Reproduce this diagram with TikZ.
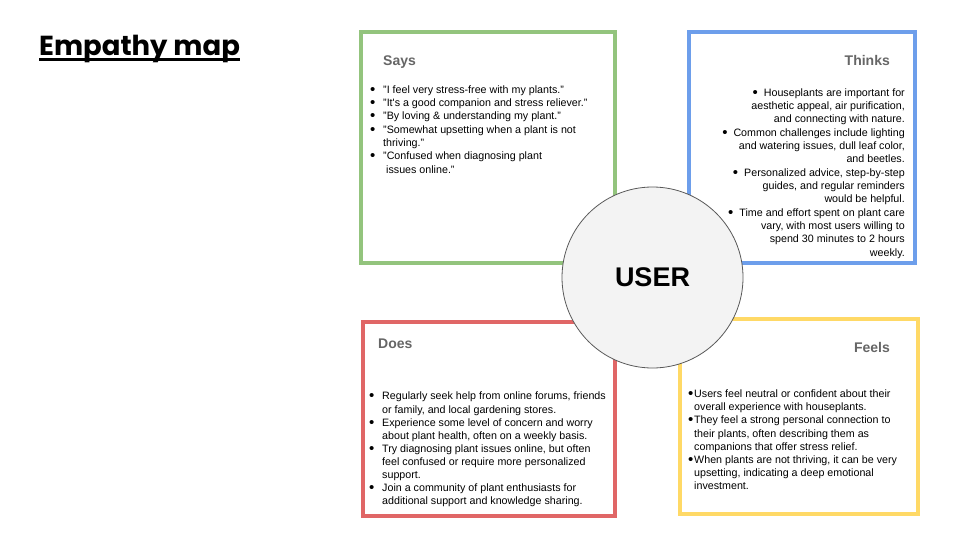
\documentclass[tikz,border=0pt]{standalone}
\usepackage{fontspec}
\setmainfont{Liberation Sans}
\newfontfamily\titlefont{Poppins}
\definecolor{gsay}{HTML}{93C47D}
\definecolor{gthink}{HTML}{6D9EEB}
\definecolor{gdo}{HTML}{E06666}
\definecolor{gfeel}{HTML}{FFD966}
\definecolor{hdr}{HTML}{666666}
\definecolor{circfill}{HTML}{F3F3F3}
\definecolor{circline}{HTML}{595959}
\newcommand\bdot{\raisebox{-0.9pt}{\scalebox{1.4}{\textbullet}}}
\newcommand\bulA[1]{\makebox[13pt][l]{\bdot}#1}
\newcommand\indA{\hspace*{13pt}}
\newcommand\bulF[1]{\makebox[6pt][l]{\bdot}#1}
\newcommand\indF{\hspace*{6pt}}
\newcommand\bulT{\bdot\hspace{6pt}}
\begin{document}
\begin{tikzpicture}[x=1pt,y=-1pt,
  quad/.style={draw, rectangle, line width=3.5pt, fill=white, inner sep=0pt},
  hdrtext/.style={font=\fontsize{14}{16}\selectfont\bfseries, text=hdr, inner sep=0pt},
  body/.style={font=\fontsize{10.7}{13.33}\selectfont, inner sep=0pt, text=black},
  bodyB/.style={font=\fontsize{10.7}{13.1}\selectfont, inner sep=0pt, text=black}]
\useasboundingbox (0,0) rectangle (960,540);
\fill[white] (0,0) rectangle (960,540);
% title
\node[anchor=base west, inner sep=0pt, font=\titlefont\bfseries\fontsize{27.5}{30}\selectfont] (title) at (39,56) {Empathy map};
\draw[line width=2.2pt] ([yshift=-3.5pt]title.base west) -- ([yshift=-3.5pt]title.base east);
% boxes
\node[quad, draw=gsay, minimum width=254pt, minimum height=231pt] (says) at (488,147.5) {};
\node[quad, draw=gthink, minimum width=226pt, minimum height=231pt] (thinks) at (802,147.5) {};
\node[quad, draw=gdo, minimum width=252pt, minimum height=194pt] (does) at (489,419) {};
\node[quad, draw=gfeel, minimum width=238pt, minimum height=195pt] (feels) at (799,416.5) {};
% headers
\node[hdrtext, anchor=base west] (saysh) at (383,66) {Says};
\node[hdrtext, anchor=base east] (thinksh) at (890,66) {Thinks};
\node[hdrtext, anchor=base west] (doesh) at (378,348) {Does};
\node[hdrtext, anchor=base east] (feelsh) at (890,352) {Feels};
% says text
\node[body, anchor=north west, align=left] (saystext) at (370,83.6) {%
\bulA{"I feel very stress-free with my plants."}\strut\\
\bulA{"It\textquotesingle s a good companion and stress reliever."}\\
\bulA{"By loving \& understanding my plant."}\\
\bulA{"Somewhat upsetting when a plant is not}\\
\indA thriving."\\
\bulA{"Confused when diagnosing plant}\\
\indA\ issues online."};
% thinks text
\node[body, anchor=north east, align=right] (thinkstext) at (905,86.6) {%
\bulT Houseplants are important for\strut\\
aesthetic appeal, air purification,\\
and connecting with nature.\\
\bulT Common challenges include lighting\\
and watering issues, dull leaf color,\\
and beetles.\\
\bulT Personalized advice, step-by-step\\
guides, and regular reminders\\
would be helpful.\\
\bulT Time and effort spent on plant care\\
vary, with most users willing to\\
spend 30 minutes to 2 hours\\
weekly.};
% does text
\node[bodyB, anchor=north west, align=left] (doestext) at (369,390.6) {%
\bulA{Regularly seek help from online forums, friends}\strut\\
\indA or family, and local gardening stores.\\
\bulA{Experience some level of concern and worry}\\
\indA about plant health, often on a weekly basis.\\
\bulA{Try diagnosing plant issues online, but often}\\
\indA feel confused or require more personalized\\
\indA support.\\
\bulA{Join a community of plant enthusiasts for}\\
\indA additional support and knowledge sharing.};
% feels text
\node[bodyB, anchor=north west, align=left] (feelstext) at (688,388.4) {%
\bulF{Users feel neutral or confident about their}\strut\\
\indF overall experience with houseplants.\\
\bulF{They feel a strong personal connection to}\\
\indF their plants, often describing them as\\
\indF companions that offer stress relief.\\
\bulF{When plants are not thriving, it can be very}\\
\indF upsetting, indicating a deep emotional\\
\indF investment.};
% circle
\node[circle, draw=circline, line width=0.8pt, fill=circfill, minimum size=181pt, inner sep=0pt,
  font=\fontsize{27}{30}\selectfont\bfseries] (user) at (652.5,277.5) {USER};
\end{tikzpicture}
\end{document}
